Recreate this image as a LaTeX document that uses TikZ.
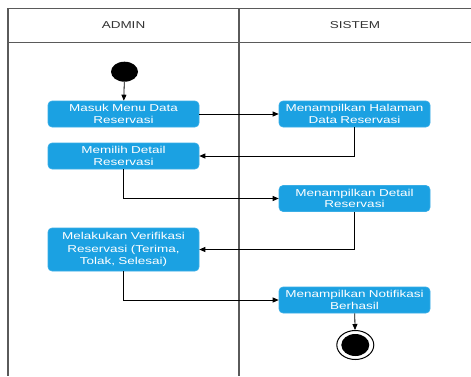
\documentclass[tikz,border=0pt]{standalone}
\usepackage{fontspec}
\setmainfont{Liberation Sans}
\newfontfamily\lanefont[FakeStretch=1.35]{Liberation Sans}
\usetikzlibrary{arrows.meta,shapes.geometric}
\definecolor{actblue}{HTML}{1BA1E2}
\definecolor{actedge}{HTML}{3AAEE6}
\definecolor{lanegray}{HTML}{5A5A5A}
\definecolor{headtext}{HTML}{333333}
\tikzset{
  activity/.style={rectangle, rounded corners=4pt, fill=actblue, draw=actedge,
    line width=0.6pt, minimum width=151pt, minimum height=26pt, text width=145pt,
    align=center, inner sep=1pt, text=white,
    font=\lanefont\fontsize{10}{11.5}\selectfont},
  lane/.style={draw=lanegray, line width=1.3pt},
  header/.style={text=headtext, font=\lanefont\fontsize{10}{12}\selectfont},
  flow/.style={draw=black, line width=0.8pt, -{Triangle[length=6pt,width=5pt]}},
}
\begin{document}
\begin{tikzpicture}[x=1pt, y=-1pt]
\useasboundingbox (0,0) rectangle (471,376);
% swimlane frame
\draw[lane] (471,8.3) -- (8,8.3) -- (8,376);
\draw[lane] (8,42.3) -- (471,42.3);
\draw[lane] (239,8.3) -- (239,376);
\node[header] (hadmin) at (123.5,25) {ADMIN};
\node[header] (hsistem) at (355,25) {SISTEM};
% start and end states
\node[ellipse, fill=black, minimum width=27pt, minimum height=20pt, inner sep=0pt] (start) at (124.5,71.7) {};
\node[activity] (b1) at (123.5,114) {Masuk Menu Data\\Reservasi};
\node[activity] (b2) at (354.5,114) {Menampilkan Halaman\\Data Reservasi};
\node[activity] (b3) at (123.5,156) {Memilih Detail\\Reservasi};
\node[activity] (b4) at (354.5,198.5) {Menampilkan Detail\\Reservasi};
\node[activity, minimum height=43pt, text width=140pt, font=\lanefont\fontsize{10}{12.5}\selectfont] (b5) at (123.5,249.5) {Melakukan Verifikasi\\Reservasi (Terima,\\Tolak, Selesai)};
\node[activity] (b6) at (354.5,300) {Menampilkan Notifikasi\\Berhasil};
\node[ellipse, draw=black, line width=1pt, fill=white, minimum width=37pt, minimum height=29pt, inner sep=0pt] (stop) at (355.3,345) {};
\node[ellipse, fill=black, minimum width=28pt, minimum height=22pt, inner sep=0pt] (stopin) at (stop.center) {};
% control flow
\draw[flow] (start) -- (b1);
\draw[flow] (b1) -- (b2);
\draw[flow] (b2.south) |- (b3.east);
\draw[flow] (b3.south) |- (b4.west);
\draw[flow] (b4.south) |- (b5.east);
\draw[flow] (b5.south) |- (b6.west);
\draw[flow] (b6) -- (stop);
\end{tikzpicture}
\end{document}
